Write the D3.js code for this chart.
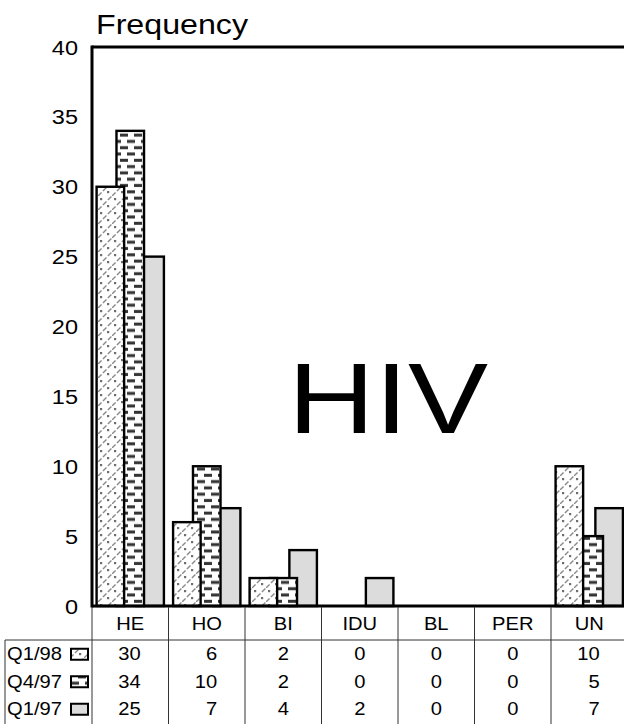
<!DOCTYPE html>
<html>
<head>
<meta charset="utf-8">
<script src="https://cdn.jsdelivr.net/npm/d3@7"></script>
<style>
  body { margin: 0; background: #fff; }
  svg { display: block; }
  text { font-family: Arial, "Liberation Sans", sans-serif; fill: #000; }
</style>
</head>
<body>
<div id="chart"></div>
<script>
var categories = ["HE", "HO", "BI", "IDU", "BL", "PER", "UN"];
var seriesNames = ["Q1/98", "Q4/97", "Q1/97"];
var q198 = [30, 6, 2, 0, 0, 0, 10];
var q497 = [34, 10, 2, 0, 0, 0, 5];
var q197 = [25, 7, 4, 2, 0, 0, 7];
var yTicks = [0, 5, 10, 15, 20, 25, 30, 35, 40];

(function () {
    var seriesValues = [q198, q497, q197];
    var width = 624, height = 724;
    var plotLeft = 92, plotTop = 47, plotBottom = 606;
    var bandW = 76.5;
    var sx = 1.12; // the picture text is a bit wider than it is tall

    var svg = d3.select("#chart").append("svg")
        .attr("width", width)
        .attr("height", height);

    var defs = svg.append("defs");

    // dotted + diagonal fill for Q1/98
    var p1 = defs.append("pattern")
        .attr("id", "pat-q198")
        .attr("patternUnits", "userSpaceOnUse")
        .attr("width", 14).attr("height", 14);
    p1.append("rect").attr("width", 14).attr("height", 14).attr("fill", "#fff");
    p1.append("line").attr("x1", 0).attr("y1", 14).attr("x2", 14).attr("y2", 0)
        .attr("stroke", "#8a8a8a").attr("stroke-width", 1.4).attr("stroke-dasharray", "5,2");
    p1.append("rect").attr("x", 2).attr("y", 2).attr("width", 2.2).attr("height", 2.2).attr("fill", "#6e6e6e");
    p1.append("rect").attr("x", 9).attr("y", 9).attr("width", 2.2).attr("height", 2.2).attr("fill", "#6e6e6e");

    // brick dashes for Q4/97
    var p2 = defs.append("pattern")
        .attr("id", "pat-q497")
        .attr("patternUnits", "userSpaceOnUse")
        .attr("width", 14).attr("height", 12.6);
    p2.append("rect").attr("width", 14).attr("height", 12.6).attr("fill", "#fff");
    p2.append("rect").attr("x", 1).attr("y", 1.3).attr("width", 8).attr("height", 3).attr("fill", "#333");
    p2.append("rect").attr("x", 8).attr("y", 7.6).attr("width", 6).attr("height", 3).attr("fill", "#333");
    p2.append("rect").attr("x", 0).attr("y", 7.6).attr("width", 2).attr("height", 3).attr("fill", "#333");

    var fills = ["url(#pat-q198)", "url(#pat-q497)", "#dcdcdc"];

    var x = d3.scaleBand()
        .domain(categories)
        .range([plotLeft, plotLeft + bandW * categories.length])
        .paddingInner(0).paddingOuter(0);

    var y = d3.scaleLinear()
        .domain([0, 40])
        .range([plotBottom, plotTop]);

    var barW = x.bandwidth() * 0.36;
    var step = x.bandwidth() * 0.26;

    function stretchText(sel, px, py, k) {
        return sel.append("g")
            .attr("transform", "translate(" + px + "," + py + ") scale(" + (k || sx) + ",1)")
            .append("text");
    }

    // y tick labels
    yTicks.forEach(function (t) {
        stretchText(svg, 78, y(t) + 7.5)
            .attr("text-anchor", "end")
            .attr("font-size", 21)
            .text(t);
    });

    stretchText(svg, 96, 34, 1.15)
        .attr("font-size", 28)
        .text("Frequency");

    // bars, last series first so the earlier ones sit on top
    var plot = svg.append("g");
    for (var s = seriesValues.length - 1; s >= 0; s--) {
        var rows = seriesValues[s].map(function (v, i) {
            return { cat: categories[i], value: v, s: s };
        }).filter(function (d) { return d.value > 0; });
        plot.selectAll(null)
            .data(rows)
            .enter()
            .append("rect")
            .attr("x", function (d) {
                return x(d.cat) + x.bandwidth() / 2 - barW / 2 + (d.s - 1) * step;
            })
            .attr("y", function (d) { return y(d.value); })
            .attr("width", barW)
            .attr("height", function (d) { return y(0) - y(d.value); })
            .attr("fill", fills[s])
            .attr("stroke", "#000")
            .attr("stroke-width", 2.4);
    }

    // frame: left axis, top line, base line
    svg.append("line").attr("x1", plotLeft).attr("x2", width).attr("y1", plotTop).attr("y2", plotTop)
        .attr("stroke", "#000").attr("stroke-width", 3);
    svg.append("line").attr("x1", plotLeft).attr("x2", plotLeft).attr("y1", plotTop - 1.5).attr("y2", plotBottom + 1.5)
        .attr("stroke", "#000").attr("stroke-width", 3);
    svg.append("line").attr("x1", plotLeft).attr("x2", width).attr("y1", plotBottom).attr("y2", plotBottom)
        .attr("stroke", "#000").attr("stroke-width", 3);

    // HIV label
    stretchText(svg, 388, 433, 1.2)
        .attr("text-anchor", "middle")
        .attr("font-size", 100)
        .text("HIV");

    // data table
    var rowTop = 640, rowH = 27.5;
    var table = svg.append("g").attr("stroke", "#333").attr("stroke-width", 1);
    categories.forEach(function (c) {
        table.append("line")
            .attr("x1", x(c)).attr("x2", x(c))
            .attr("y1", plotBottom + 1).attr("y2", height);
    });
    table.append("line").attr("x1", 5).attr("x2", width).attr("y1", rowTop).attr("y2", rowTop);
    table.append("line").attr("x1", 5).attr("x2", 5).attr("y1", rowTop).attr("y2", height);

    categories.forEach(function (c) {
        stretchText(svg, x(c) + x.bandwidth() / 2, 630)
            .attr("text-anchor", "middle")
            .attr("font-size", 18)
            .text(c);
    });

    seriesNames.forEach(function (name, s) {
        var cy = rowTop + rowH * s + rowH / 2;
        stretchText(svg, 7, cy + 6.5)
            .attr("font-size", 18)
            .text(name);
        svg.append("rect")
            .attr("x", 71).attr("y", cy - 5)
            .attr("width", 17).attr("height", 11)
            .attr("fill", fills[s])
            .attr("stroke", "#000").attr("stroke-width", 2);
        seriesValues[s].forEach(function (v, i) {
            var c = categories[i];
            var wide = d3.max(seriesValues, function (arr) { return arr[i]; }) >= 10;
            var tx = x(c) + x.bandwidth() / 2;
            stretchText(svg, wide ? tx + 10.5 : tx, cy + 6.5)
                .attr("text-anchor", wide ? "end" : "middle")
                .attr("font-size", 18)
                .text(v);
        });
    });
})();
</script>
</body>
</html>
